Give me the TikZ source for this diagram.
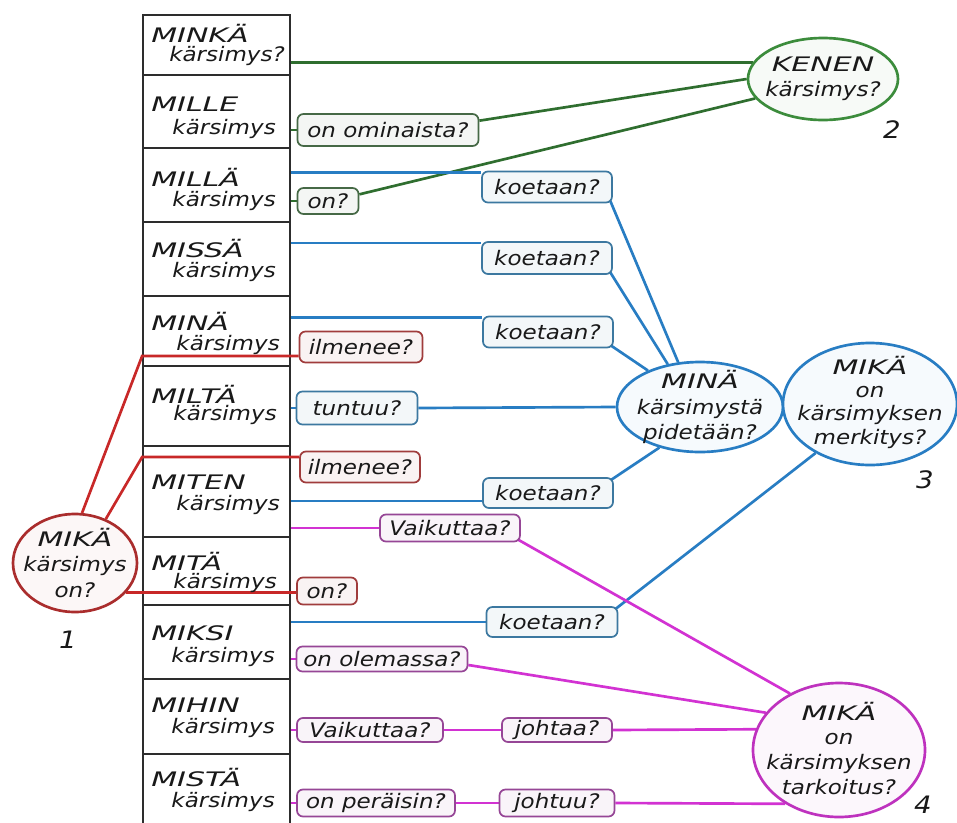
\documentclass[tikz,border=0pt]{standalone}
\usepackage{fontspec}
\usetikzlibrary{shapes.geometric}
\newfontfamily\handfont{DejaVu Sans}[FakeStretch=1.15]
\newfontfamily\capsfont{DejaVu Sans}[FakeStretch=1.5]
\newcommand\hw{\handfont\itshape\fontsize{15}{19}\selectfont}
\newcommand\cw{\capsfont\itshape\fontsize{15}{19}\selectfont}

\definecolor{ink}{RGB}{25,25,25}
\definecolor{boxc}{RGB}{45,45,45}
\definecolor{gL}{RGB}{47,110,47}
\definecolor{gE}{RGB}{60,140,60}
\definecolor{gB}{RGB}{70,105,70}
\definecolor{bL}{RGB}{40,125,195}
\definecolor{bB}{RGB}{60,120,160}
\definecolor{rL}{RGB}{200,40,40}
\definecolor{rE}{RGB}{170,45,45}
\definecolor{rB}{RGB}{160,60,60}
\definecolor{mL}{RGB}{210,50,210}
\definecolor{mE}{RGB}{190,50,190}
\definecolor{mB}{RGB}{150,70,150}

\pgfdeclarelayer{rows}
\pgfdeclarelayer{links}
\pgfsetlayers{rows,links,main}

\tikzset{
  rowbox/.style={draw=boxc, line width=1.3pt, fill=white, minimum width=110.25pt, inner sep=0pt},
  capw/.style={anchor=west, inner sep=0pt, text=ink, font=\cw},
  kword/.style={anchor=east, inner sep=0pt, text=ink, font=\hw},
  lbl/.style={draw=#1, rounded corners=4.5pt, line width=1.3pt, inner sep=1pt,
    fill=#1!6!white, text=ink, font=\hw},
  wd/.style={minimum width=#1*0.75pt},
  ht/.style={minimum height=#1*0.75pt},
  ell/.style={ellipse, draw=#1, line width=2pt, inner sep=0pt, fill=#1!4!white},
  etext/.style={align=center, inner sep=0pt, text=ink, font=\hw},
  num/.style={inner sep=0pt, text=ink, font=\handfont\itshape\fontsize{18}{20}\selectfont},
  gline/.style={draw=gL, line width=2pt},
  bline/.style={draw=bL, line width=2pt},
  rline/.style={draw=rL, line width=2pt},
  mline/.style={draw=mL, line width=2pt},
}

\begin{document}
\begin{tikzpicture}[x=0.75pt, y=-0.75pt]
\useasboundingbox (0,0) rectangle (957,822);

% the column of question rows
\begin{pgfonlayer}{rows}
\fill[white] (0,0) rectangle (957,822);
\foreach \n/\t/\b in {1/15/75, 2/75/148, 3/148/222, 4/222/296, 5/296/366, 6/366/446,
                      7/446/537, 8/537/605, 9/605/679, 10/679/754, 11/754/828}
  \node[rowbox, minimum height={(\b-\t)*0.75pt}] (r\n) at (216.5,{(\t+\b)/2}) {};
\end{pgfonlayer}

\foreach \n/\w/\wy/\s/\sy/\sx in {1/MINKÄ/33/kärsimys?/56/285, 2/MILLE/104/kärsimys/129/276,
    3/MILLÄ/177/kärsimys/201/276, 4/MISSÄ/249/kärsimys/272/276, 5/MINÄ/321/kärsimys/345/280,
    6/MILTÄ/394/kärsimys/415/277, 7/MITEN/482/kärsimys/505/280, 8/MITÄ/561/kärsimys/583/277,
    9/MIKSI/633/kärsimys/657/275, 10/MIHIN/705/kärsimys/728/275, 11/MISTÄ/777/kärsimys/802/275}
{
  \node[capw] (w\n) at (151,\wy) {\w};
  \node[kword] (s\n) at (\sx,\sy) {\s};
}

% the four question ellipses
\node[ell=rE, minimum width=124*0.75pt, minimum height=98*0.75pt] (e1) at (75,563) {};
\node[etext] (e1t) at (e1) {{\cw MIKÄ}\\kärsimys\\on?};
\node[ell=gE, minimum width=150*0.75pt, minimum height=82*0.75pt] (e2) at (823,79) {};
\node[etext] (e2t) at (e2) {{\cw KENEN}\\kärsimys?};
\node[ell=bL, minimum width=166*0.75pt, minimum height=90*0.75pt] (e3) at (700,407) {};
\node[etext] (e3t) at (e3) {{\cw MINÄ}\\kärsimystä\\pidetään?};
\node[ell=bL, minimum width=174*0.75pt, minimum height=122*0.75pt] (e4) at (870,404) {};
\node[etext, font=\hw\fontsize{15}{17.5}\selectfont] (e4t) at (870,402) {{\cw MIKÄ}\\on\\kärsimyksen\\merkitys?};
\node[ell=mE, minimum width=172*0.75pt, minimum height=134*0.75pt] (e5) at (839,750) {};
\node[etext, font=\hw\fontsize{15}{18.5}\selectfont] (e5t) at (839,748) {{\cw MIKÄ}\\on\\kärsimyksen\\tarkoitus?};

\node[num] (n1) at (68,640) {1};
\node[num] (n2) at (892,130) {2};
\node[num] (n3) at (925,480) {3};
\node[num] (n4) at (923,805) {4};

% answer labels
\node[lbl=gB, wd=181, ht=32] (g1) at (388,130) {on ominaista?};
\node[lbl=gB, wd=61, ht=26] (g2) at (328,201) {on?};

\node[lbl=bB, wd=130, ht=31] (b1) at (547,187) {koetaan?};
\node[lbl=bB, wd=130, ht=32] (b2) at (547,258) {koetaan?};
\node[lbl=bB, wd=130, ht=31] (b3) at (548,332) {koetaan?};
\node[lbl=bB, wd=121, ht=33] (b4) at (357,408) {tuntuu?};
\node[lbl=bB, wd=130, ht=30] (b5) at (548,493) {koetaan?};
\node[lbl=bB, wd=131, ht=30] (b6) at (552,622) {koetaan?};

\node[lbl=rB, wd=123, ht=31] (q1) at (361,347) {ilmenee?};
\node[lbl=rB, wd=120, ht=31] (q2) at (360,467) {ilmenee?};
\node[lbl=rB, wd=60, ht=27] (q3) at (327,591) {on?};

\node[lbl=mB, wd=140, ht=27] (m1) at (450,528) {Vaikuttaa?};
\node[lbl=mB, wd=171, ht=25] (m2) at (382,659) {on olemassa?};
\node[lbl=mB, wd=146, ht=24] (m3) at (370,730) {Vaikuttaa?};
\node[lbl=mB, wd=110, ht=24] (m4) at (557,730) {johtaa?};
\node[lbl=mB, wd=158, ht=27] (m5) at (376,803) {on peräisin?};
\node[lbl=mB, wd=115, ht=27] (m6) at (557,803) {johtuu?};

\begin{pgfonlayer}{links}
% 2: whose suffering
\draw[gline] (e2.167 -| r1.east) -- (e2.167);
\draw[gline] (r2.east |- g1.west) -- (g1.west);
\draw[gline] ([yshift=7pt]g1.east) -- (e2.180);
\draw[gline] (r3.east |- g2.west) -- (g2.west);
\draw[gline] ([yshift=5pt]g2.east) -- (e2.196);

% 3: how suffering is regarded and what it means
\draw[bline] ([yshift=-1.5pt]b1.north west -| r3.east) -- ([yshift=-1.5pt]b1.north west);
\draw[bline] ([xshift=-2pt,yshift=2pt]b1.south east) -- (e3.116);
\draw[bline] ([yshift=-1.5pt]b2.north west -| r4.east) -- ([yshift=-1.5pt]b2.north west);
\draw[bline] ([xshift=-2pt,yshift=2pt]b2.south east) -- (e3.127);
\draw[bline] ([yshift=-1.5pt]b3.north west -| r5.east) -- ([yshift=-1.5pt]b3.north west);
\draw[bline] ([xshift=-2pt,yshift=2pt]b3.south east) -- (e3.145);
\draw[bline] (r6.east |- b4.west) -- (b4.west);
\draw[bline] (b4.east) -- (e3.180);
\draw[bline] ([yshift=-6pt]b5.west -| r7.east) -- ([yshift=-6pt]b5.west);
\draw[bline] ([xshift=-2pt,yshift=-2pt]b5.north east) -- (e3.225);
\draw[bline] (r9.east |- b6.west) -- (b6.west);
\draw[bline] ([xshift=-2pt,yshift=-2pt]b6.north east) -- (e4.222);
\draw[bline] (e3.east) -- (e4.west);

% 1: what suffering is
\draw[rline] (e1.82) -- ([yshift=-6.75pt]q1.west -| r5.west) -- ([yshift=-6.75pt]q1.west);
\draw[rline] (e1.55) -- ([yshift=7.5pt]q2.west -| r7.west) -- ([yshift=7.5pt]q2.west);
\draw[rline] (e1.330) -- (e1.330 -| q3.west);

% 4: the purpose of suffering
\draw[mline] (r7.east |- m1.west) -- (m1.west);
\draw[mline] ([xshift=-2pt,yshift=2pt]m1.south east) -- (e5.131);
\draw[mline] (r9.east |- m2.west) -- (m2.west);
\draw[mline] ([yshift=-4.5pt]m2.east) -- (e5.153);
\draw[mline] (r10.east |- m3.west) -- (m3.west);
\draw[mline] (m3.east) -- (m4.west);
\draw[mline] (m4.east) -- (e5.166);
\draw[mline] (r11.east |- m5.west) -- (m5.west);
\draw[mline] (m5.east) -- (m6.west);
\draw[mline] (m6.east) -- (e5.225);
\end{pgfonlayer}
\end{tikzpicture}
\end{document}
